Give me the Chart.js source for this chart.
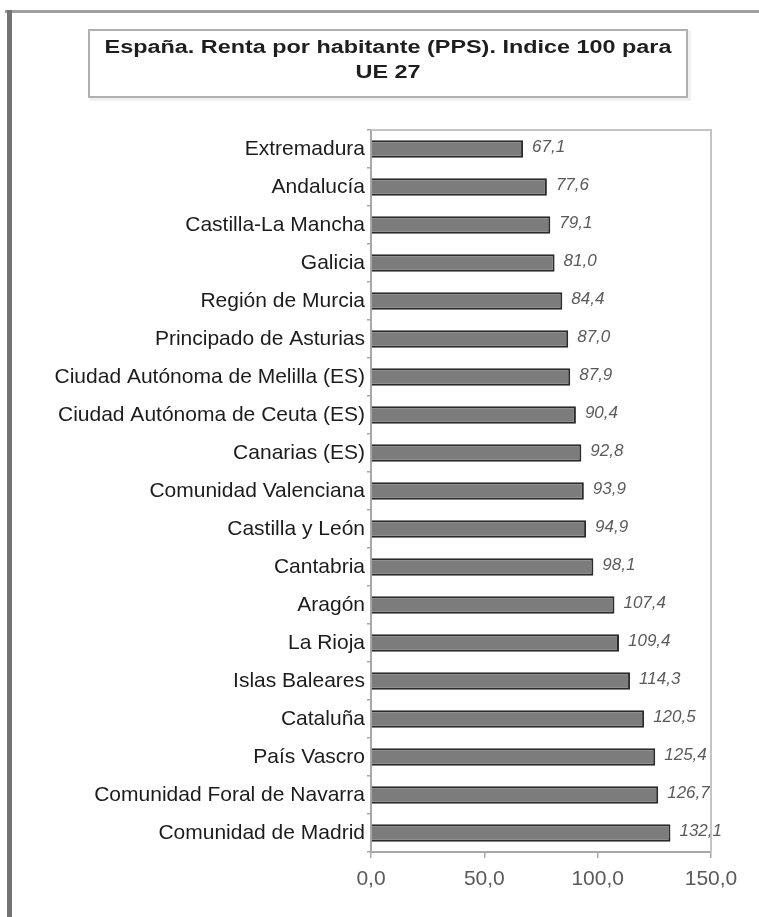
<!DOCTYPE html>
<html>
<head>
<meta charset="utf-8">
<script src="https://cdn.jsdelivr.net/npm/chart.js@4.4.1/dist/chart.umd.min.js"></script>
<style>
html, body { margin:0; padding:0; background:#fff; }
#wrap { width:759px; height:917px; }
</style>
</head>
<body>
<div id="wrap"><canvas id="renta" width="759" height="917"></canvas></div>
<script>
// data
var regiones = [
    'Extremadura', 'Andalucía', 'Castilla-La Mancha', 'Galicia', 'Región de Murcia',
    'Principado de Asturias', 'Ciudad Autónoma de Melilla (ES)', 'Ciudad Autónoma de Ceuta (ES)',
    'Canarias (ES)', 'Comunidad Valenciana', 'Castilla y León', 'Cantabria', 'Aragón',
    'La Rioja', 'Islas Baleares', 'Cataluña', 'País Vascro', 'Comunidad Foral de Navarra',
    'Comunidad de Madrid'
]
var renta = [67.1, 77.6, 79.1, 81.0, 84.4, 87.0, 87.9, 90.4, 92.8, 93.9, 94.9, 98.1, 107.4, 109.4, 114.3, 120.5, 125.4, 126.7, 132.1]
var ejeMin = 0
var ejeMax = 150
var ejePaso = 50
var titulo = ['España. Renta por habitante (PPS). Indice 100 para', 'UE 27']

function coma(v){ return v.toFixed(1).replace('.', ',') }

// outer frame + title box
let marco = {
    id:'marco',
    beforeDraw(chart){
        let ctx = chart.ctx
        ctx.save()
        ctx.fillStyle = '#fff'
        ctx.fillRect(0, 0, chart.width, chart.height)
        ctx.fillStyle = '#a0a0a0'
        ctx.fillRect(5, 10, 754, 3)
        ctx.fillStyle = '#737373'
        ctx.fillRect(7, 10, 5, 907)

        // title box
        ctx.fillStyle = 'rgba(0,0,0,0.06)'
        ctx.fillRect(90, 31, 601, 70)
        ctx.fillStyle = '#fff'
        ctx.fillRect(88, 29, 600, 69)
        ctx.strokeStyle = '#b0b0b0'
        ctx.lineWidth = 2
        ctx.strokeRect(89, 30, 598, 67)

        ctx.fillStyle = '#1e1e1e'
        ctx.font = 'bold 18px "Liberation Sans", Arial, sans-serif'
        ctx.textAlign = 'center'
        ctx.textBaseline = 'middle'
        for (var i = 0; i < titulo.length; i++) {
            ctx.save()
            ctx.translate(388, 48 + i * 25)
            ctx.scale(1.3, 1)
            ctx.fillText(titulo[i], 0, 0)
            ctx.restore()
        }
        ctx.restore()
    },
    afterDraw(chart){
        // light box around plot area (top + right)
        let a = chart.chartArea
        let ctx = chart.ctx
        ctx.save()
        ctx.strokeStyle = '#c4c4c4'
        ctx.lineWidth = 2
        ctx.beginPath()
        ctx.moveTo(a.left, a.top)
        ctx.lineTo(a.right, a.top)
        ctx.lineTo(a.right, a.bottom)
        ctx.stroke()
        ctx.restore()
    }
}

// value labels to the right of each bar
let etiquetas = {
    id:'etiquetas',
    afterDatasetsDraw(chart){
        let ctx = chart.ctx
        let meta = chart.getDatasetMeta(0)
        ctx.save()
        ctx.fillStyle = '#5a5a5a'
        ctx.font = 'italic 17px "Liberation Sans", Arial, sans-serif'
        ctx.textAlign = 'left'
        ctx.textBaseline = 'middle'
        meta.data.forEach((bar, i) => {
            ctx.fillText(coma(renta[i]), bar.x + 9, bar.y - 2)
        })
        ctx.restore()
    }
}

var chart1 = new Chart(document.getElementById('renta').getContext('2d'), {
    type:'bar',
    plugins:[marco, etiquetas],
    data:{
        labels:regiones,
        datasets:[{
            data:renta,
            backgroundColor:'#7c7c7c',
            borderColor:'#2a2a2a',
            borderWidth:2,
            barPercentage:0.46,
            categoryPercentage:1
        }]
    },
    options:{
        indexAxis:'y',
        responsive:false,
        animation:false,
        layout:{ padding:{ top:130, right:48, left:0, bottom:0 } },
        plugins:{
            legend:{ display:false },
            tooltip:{ enabled:false },
            title:{ display:false }
        },
        scales:{
            x:{
                min:ejeMin,
                max:ejeMax,
                afterFit:(s) => { s.height = 65 },
                ticks:{
                    stepSize:ejePaso,
                    callback:(v) => coma(v),
                    color:'#5a5a5a',
                    font:{ family:'"Liberation Sans", Arial, sans-serif', size:21 },
                    padding:9,
                    maxRotation:0
                },
                grid:{ drawOnChartArea:false, drawTicks:true, tickLength:6, color:'#a8a8a8', lineWidth:1.5 },
                border:{ color:'#a8a8a8', width:2 }
            },
            y:{
                afterFit:(s) => { s.width = 371 },
                ticks:{
                    color:'#1c1c1c',
                    font:{ family:'"Liberation Sans", Arial, sans-serif', size:21 },
                    padding:2,
                    autoSkip:false
                },
                grid:{ drawOnChartArea:false, offset:true, drawTicks:true, tickLength:4, color:'#a8a8a8', lineWidth:1.5 },
                border:{ color:'#a8a8a8', width:2 }
            }
        }
    }
})
</script>
</body>
</html>
